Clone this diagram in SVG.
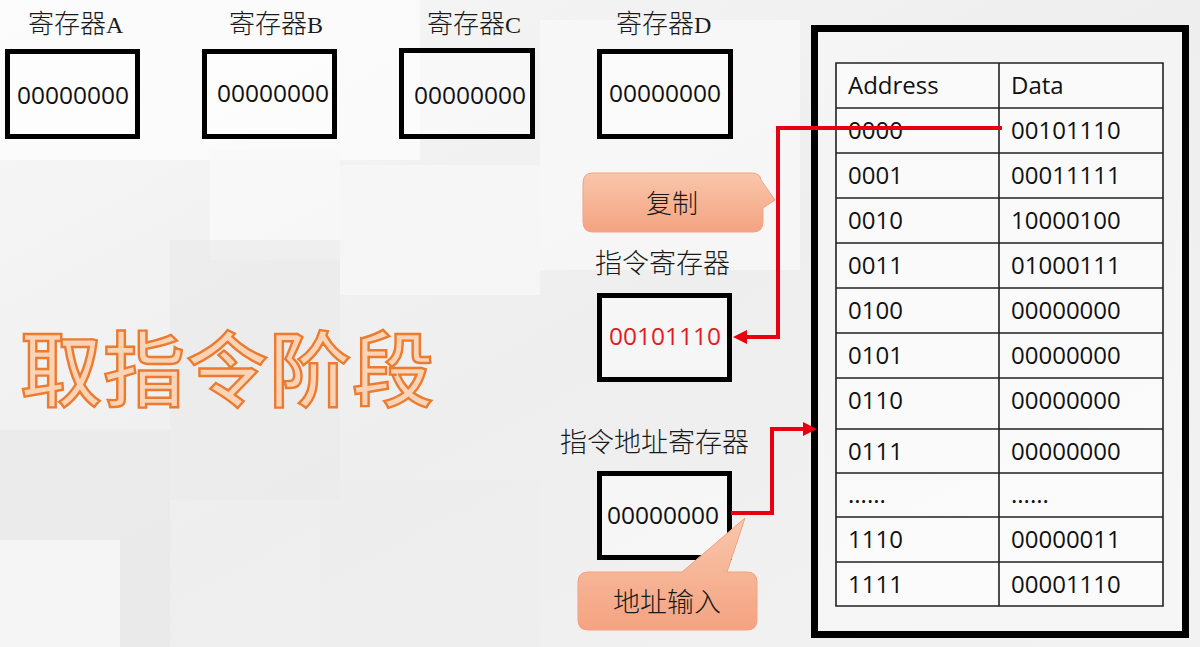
<svg xmlns="http://www.w3.org/2000/svg" width="1200" height="647" viewBox="0 0 1200 647">
<style>
.reg{fill:#ffffff;fill-opacity:0.45;stroke:#000;stroke-width:5}
.lbl{font-family:"Noto Sans CJK SC","Noto Sans",sans-serif;font-weight:300;font-size:26px;fill:#1a1a1a}
.lat{font-family:"Liberation Serif",serif;font-size:24px}
.val{font-family:"Open Sans","Noto Sans",sans-serif;font-size:24.5px;fill:#111}
.cell{font-family:"Open Sans","Noto Sans",sans-serif;font-size:24px;fill:#111}
.grid{stroke:#222;stroke-width:1.6;fill:none}
.wire{fill:none;stroke:#e60012;stroke-width:4}
.callout{fill:url(#cg);stroke:#f2a383;stroke-width:1}
.ctext{font-family:"Noto Sans CJK SC","Noto Sans",sans-serif;font-weight:300;font-size:26px;fill:#1a1a1a;text-anchor:middle}
.title{font-family:"Noto Sans CJK SC",sans-serif;font-weight:500;font-size:82px;fill:#fbd3b6;stroke:#ec7b30;stroke-width:2.4;letter-spacing:1px}
</style>
<defs>
<linearGradient id="cg" x1="0" y1="0" x2="0" y2="1">
<stop offset="0" stop-color="#f9c6ab"/>
<stop offset="1" stop-color="#f4a381"/>
</linearGradient>
<linearGradient id="bg" x1="0" y1="0" x2="1" y2="1">
<stop offset="0" stop-color="#f7f7f7"/>
<stop offset="0.5" stop-color="#eeeeee"/>
<stop offset="1" stop-color="#f2f2f2"/>
</linearGradient>
<marker id="ah" markerUnits="userSpaceOnUse" markerWidth="14" markerHeight="14" refX="4" refY="7" orient="auto">
<path d="M0,0 L14,7 L0,14 z" fill="#e60012"/>
</marker>
</defs>
<g id="background">
<rect x="0" y="0" width="1200" height="647" fill="url(#bg)"/>
<rect x="0" y="0" width="420" height="160" fill="#ffffff" opacity="0.6"/>
<rect x="210" y="150" width="130" height="110" fill="#f9f9f9" opacity="0.8"/>
<rect x="340" y="165" width="200" height="130" fill="#f6f6f6" opacity="0.9"/>
<rect x="170" y="240" width="170" height="260" fill="#e9e9e9" opacity="0.6"/>
<rect x="0" y="430" width="170" height="217" fill="#e8e8e8" opacity="0.6"/>
<rect x="320" y="480" width="220" height="167" fill="#ececec" opacity="0.6"/>
<rect x="540" y="20" width="260" height="250" fill="#f9f9f9" opacity="0.7"/>
<rect x="0" y="540" width="120" height="107" fill="#f8f8f8" opacity="0.8"/>
</g>
<g id="title">
<text class="title" x="20" y="400">取指令阶段</text>
</g>
<g id="regA">
<text class="lbl" x="28" y="33">寄存器<tspan class="lat">A</tspan></text>
<rect class="reg" x="7.5" y="51.5" width="130" height="85"/>
<text class="val" x="17" y="104">00000000</text>
</g>
<g id="regB">
<text class="lbl" x="229" y="33">寄存器<tspan class="lat">B</tspan></text>
<rect class="reg" x="204.5" y="51.5" width="130" height="85"/>
<text class="val" x="217" y="102">00000000</text>
</g>
<g id="regC">
<text class="lbl" x="427" y="33">寄存器<tspan class="lat">C</tspan></text>
<rect class="reg" x="401.5" y="50.5" width="131" height="86"/>
<text class="val" x="414" y="104">00000000</text>
</g>
<g id="regD">
<text class="lbl" x="616" y="33">寄存器<tspan class="lat">D</tspan></text>
<rect class="reg" x="599.5" y="51.5" width="131" height="85"/>
<text class="val" x="609" y="102">00000000</text>
</g>
<g id="ir">
<text class="lbl" x="595" y="273" style="font-size:27px">指令寄存器</text>
<rect class="reg" x="599.5" y="295.5" width="130" height="84"/>
<text class="val" x="609" y="345" style="fill:#e31b23">00101110</text>
</g>
<g id="iar">
<text class="lbl" x="560" y="452" style="font-size:27px">指令地址寄存器</text>
<rect class="reg" x="599.5" y="473.5" width="130" height="84"/>
<text class="val" x="607" y="524">00000000</text>
</g>
<g id="memory">
<rect x="814.5" y="28.5" width="371" height="606" fill="#ffffff" fill-opacity="0.35" stroke="#000" stroke-width="7"/>
<rect x="836" y="63" width="327" height="543" fill="#ffffff" fill-opacity="0.5"/>
<path class="grid" d="M836,63 H1163 V606 H836 Z M999,63 V606 M836,108 H1163 M836,153 H1163 M836,198 H1163 M836,243 H1163 M836,288 H1163 M836,333 H1163 M836,378 H1163 M836,429 H1163 M836,473 H1163 M836,517 H1163 M836,562 H1163"/>
<g class="cell">
<text x="848" y="94">Address</text><text x="1011" y="94">Data</text>
<text x="848" y="139">0000</text><text x="1011" y="139">00101110</text>
<text x="848" y="184">0001</text><text x="1011" y="184">00011111</text>
<text x="848" y="229">0010</text><text x="1011" y="229">10000100</text>
<text x="848" y="274">0011</text><text x="1011" y="274">01000111</text>
<text x="848" y="319">0100</text><text x="1011" y="319">00000000</text>
<text x="848" y="364">0101</text><text x="1011" y="364">00000000</text>
<text x="848" y="409">0110</text><text x="1011" y="409">00000000</text>
<text x="848" y="460">0111</text><text x="1011" y="460">00000000</text>
<text x="848" y="503">......</text><text x="1011" y="503">......</text>
<text x="848" y="548">1110</text><text x="1011" y="548">00000011</text>
<text x="848" y="593">1111</text><text x="1011" y="593">00001110</text>
</g>
</g>
<g id="connectors">
<path class="wire" d="M1002,128 H778 V337 H743" marker-end="url(#ah)"/>
<path class="wire" d="M731,513 H772 V429 H807" marker-end="url(#ah)"/>
</g>
<g id="callout-copy">
<path class="callout" d="M593,173 H752 Q760,173 761,180 L775,200 L763,208 V222 Q763,232 753,232 H593 Q583,232 583,222 V183 Q583,173 593,173 Z"/>
<text class="ctext" x="672" y="213">复制</text>
</g>
<g id="callout-addr">
<path class="callout" d="M588,572 H682 L745,518 L727,572 H747 Q757,572 757,582 V620 Q757,630 747,630 H588 Q578,630 578,620 V582 Q578,572 588,572 Z"/>
<text class="ctext" x="667" y="612" style="font-size:27px">地址输入</text>
</g>
</svg>
